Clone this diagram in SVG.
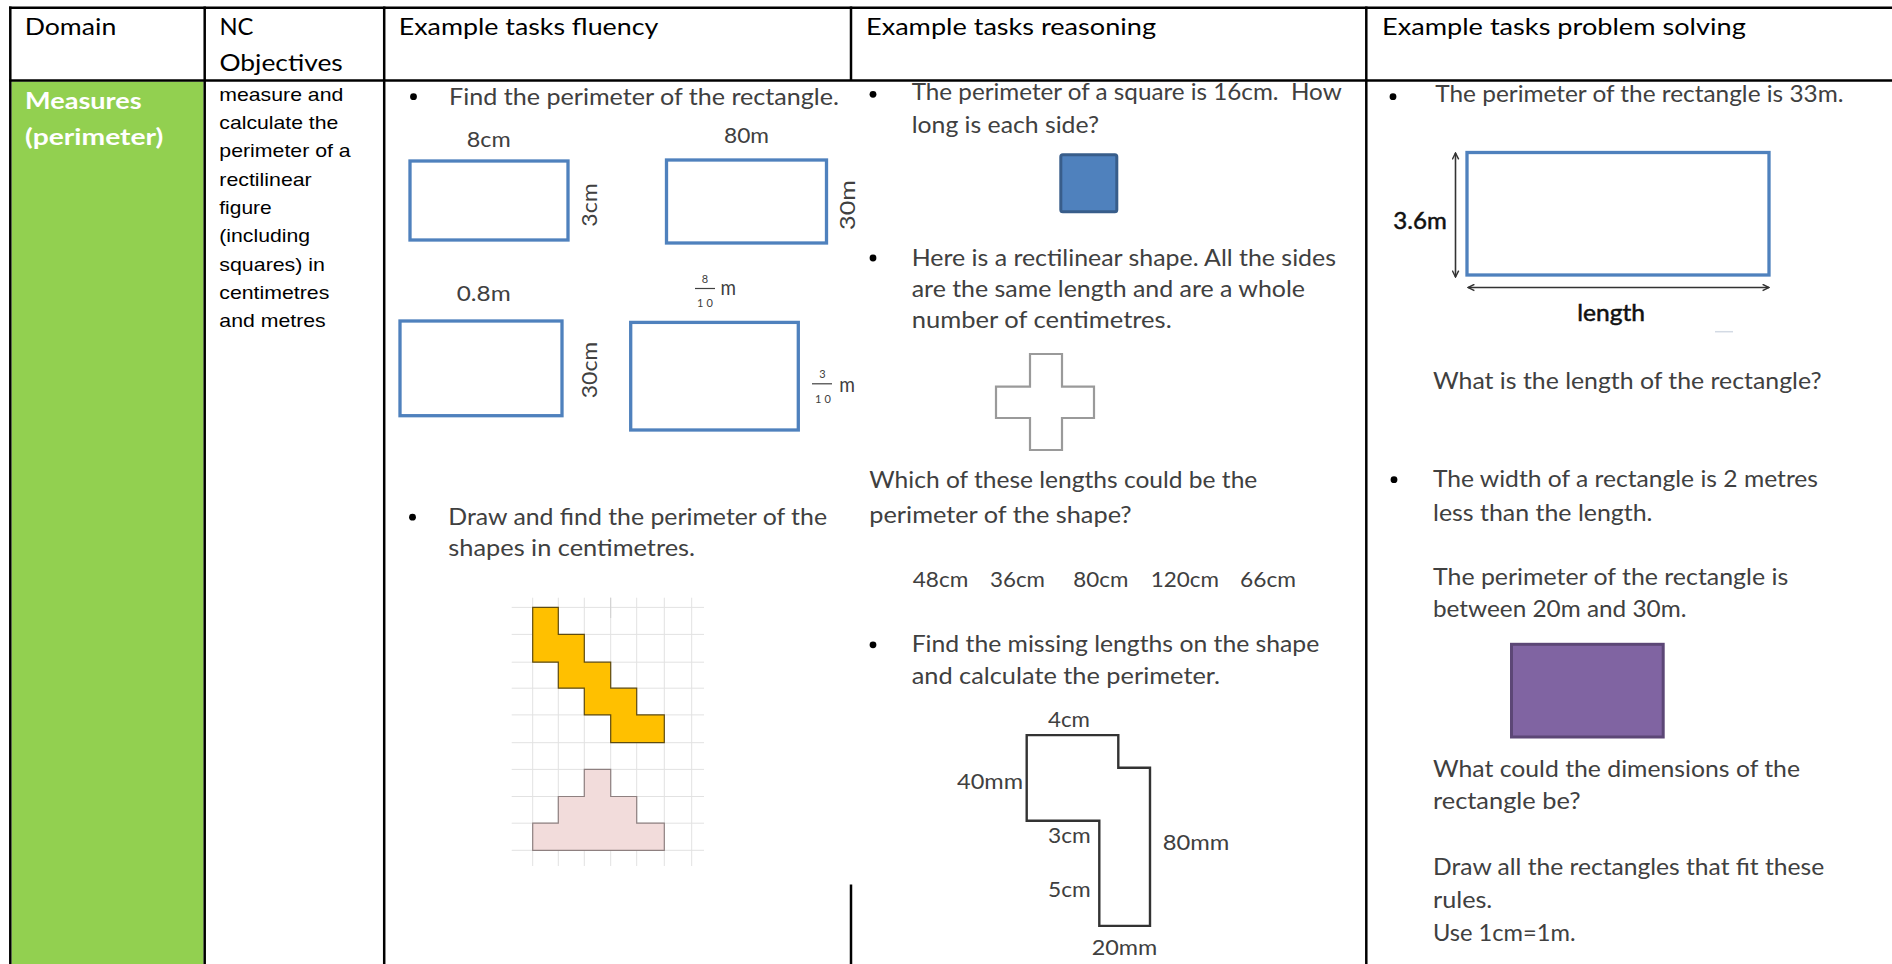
<svg xmlns="http://www.w3.org/2000/svg" width="1892" height="964" viewBox="0 0 1892 964">
  <defs>
    <style>
      .hd { font-family: Lato, "Liberation Sans", sans-serif; font-size: 23px; fill: #000; }
      .tx { font-family: Lato, "Liberation Sans", sans-serif; font-size: 23px; fill: #404040; }
      .lb { font-family: Lato, "Liberation Sans", sans-serif; font-size: 21px; fill: #404040; }
      .fr { font-family: Lato, "Liberation Sans", sans-serif; font-size: 11px; fill: #404040; }
      .dm { font-family: Lato, "Liberation Sans", sans-serif; font-size: 23px; font-weight: bold; fill: #fff; }
      .ob { font-family: "Liberation Sans", Arial, sans-serif; font-size: 19px; fill: #000; }
      .ms { font-family: Lato, "Liberation Sans", sans-serif; font-size: 23px; fill: #111; stroke: #111; stroke-width: 0.5; }
      .rule { stroke: #000; stroke-width: 2.5; fill: none; }
      .blue { fill: #fff; stroke: #4F81BD; stroke-width: 3.3; }
      .grid { stroke: #e2e2e2; stroke-width: 1; }
      .dot { fill: #000; }
      .dim { stroke: #333; stroke-width: 1.6; fill: none; }
    </style>
    <marker id="open-head" viewBox="0 0 10 10" refX="9" refY="5" markerWidth="8" markerHeight="8" markerUnits="userSpaceOnUse" orient="auto-start-reverse">
      <path d="M1,1 L9,5 L1,9" fill="none" stroke="#333" stroke-width="1.8"/>
    </marker>
  </defs>

  <rect width="1892" height="964" fill="#fff"/>

  <!-- domain cell background -->
  <rect id="domain-fill" x="11.5" y="81.5" width="192" height="883" fill="#92D050"/>

  <!-- table rules -->
  <g id="table-rules">
    <line class="rule" x1="9" y1="7.8" x2="1892" y2="7.8"/>
    <line class="rule" x1="9" y1="80.5" x2="1892" y2="80.5"/>
    <line class="rule" x1="10.3" y1="6.5" x2="10.3" y2="964"/>
    <line class="rule" x1="204.7" y1="6.5" x2="204.7" y2="964"/>
    <line class="rule" x1="384.2" y1="6.5" x2="384.2" y2="964"/>
    <line class="rule" x1="851" y1="6.5" x2="851" y2="81"/>
    <line class="rule" x1="851" y1="884.5" x2="851" y2="964"/>
    <line class="rule" x1="1366.3" y1="6.5" x2="1366.3" y2="964"/>
  </g>

  <!-- header row -->
  <g id="header">
    <text class="hd" x="24.7" y="35" textLength="91.6" lengthAdjust="spacingAndGlyphs">Domain</text>
    <text class="hd" x="219.4" y="35" textLength="34" lengthAdjust="spacingAndGlyphs">NC</text>
    <text class="hd" x="219.4" y="70.7" textLength="123.4" lengthAdjust="spacingAndGlyphs">Objectives</text>
    <text class="hd" x="398.8" y="35" textLength="259.5" lengthAdjust="spacingAndGlyphs">Example tasks fluency</text>
    <text class="hd" x="866" y="35" textLength="290" lengthAdjust="spacingAndGlyphs">Example tasks reasoning</text>
    <text class="hd" x="1382" y="35" textLength="363.8" lengthAdjust="spacingAndGlyphs">Example tasks problem solving</text>
  </g>

  <!-- domain -->
  <g id="domain">
    <text class="dm" x="25" y="109.3" textLength="116.7" lengthAdjust="spacingAndGlyphs">Measures</text>
    <text class="dm" x="25" y="145" textLength="138.3" lengthAdjust="spacingAndGlyphs">(perimeter)</text>
  </g>

  <!-- national curriculum objective -->
  <g id="objectives">
    <text class="ob" x="219.3" y="100.7" textLength="124" lengthAdjust="spacingAndGlyphs">measure and</text>
    <text class="ob" x="219.3" y="129.3" textLength="119" lengthAdjust="spacingAndGlyphs">calculate the</text>
    <text class="ob" x="219.3" y="157.3" textLength="131.4" lengthAdjust="spacingAndGlyphs">perimeter of a</text>
    <text class="ob" x="219.3" y="185.7" textLength="92.4" lengthAdjust="spacingAndGlyphs">rectilinear</text>
    <text class="ob" x="219.3" y="214" textLength="52.4" lengthAdjust="spacingAndGlyphs">figure</text>
    <text class="ob" x="219.3" y="242.3" textLength="90.7" lengthAdjust="spacingAndGlyphs">(including</text>
    <text class="ob" x="219.3" y="270.7" textLength="105.7" lengthAdjust="spacingAndGlyphs">squares) in</text>
    <text class="ob" x="219.3" y="298.7" textLength="110" lengthAdjust="spacingAndGlyphs">centimetres</text>
    <text class="ob" x="219.3" y="326.7" textLength="106.4" lengthAdjust="spacingAndGlyphs">and metres</text>
  </g>

  <!-- fluency tasks -->
  <g id="fluency-rectangles">
    <circle class="dot" cx="413.5" cy="96.7" r="3.4"/>
    <text class="tx" x="449" y="105" textLength="390" lengthAdjust="spacingAndGlyphs">Find the perimeter of the rectangle.</text>

    <rect class="blue" x="410" y="161" width="158" height="79"/>
    <text class="lb" x="466.7" y="146.7" textLength="44" lengthAdjust="spacingAndGlyphs">8cm</text>
    <text class="lb" transform="translate(597.3 226.7) rotate(-90)" textLength="43.4" lengthAdjust="spacingAndGlyphs">3cm</text>

    <rect class="blue" x="666.5" y="160" width="160" height="83"/>
    <text class="lb" x="724" y="142.7" textLength="45" lengthAdjust="spacingAndGlyphs">80m</text>
    <text class="lb" transform="translate(854.5 230) rotate(-90)" textLength="50" lengthAdjust="spacingAndGlyphs">30m</text>

    <rect class="blue" x="400" y="321" width="162" height="94.7"/>
    <text class="lb" x="456.7" y="300.7" textLength="54" lengthAdjust="spacingAndGlyphs">0.8m</text>
    <text class="lb" transform="translate(597.3 398.3) rotate(-90)" textLength="56.6" lengthAdjust="spacingAndGlyphs">30cm</text>

    <rect class="blue" x="630.7" y="322.4" width="167.6" height="107.6"/>
    <text class="fr" x="705" y="283" text-anchor="middle">8</text>
    <line x1="695" y1="288.5" x2="715" y2="288.5" stroke="#404040" stroke-width="1.2"/>
    <text class="fr" x="705" y="306.5" text-anchor="middle" textLength="16" lengthAdjust="spacing">10</text>
    <text class="lb" x="720.5" y="295" textLength="15.5" lengthAdjust="spacingAndGlyphs">m</text>

    <text class="fr" x="822.5" y="378.3" text-anchor="middle">3</text>
    <line x1="812" y1="383.8" x2="832" y2="383.8" stroke="#404040" stroke-width="1.2"/>
    <text class="fr" x="823" y="403.3" text-anchor="middle" textLength="16" lengthAdjust="spacing">10</text>
    <text class="lb" x="839.3" y="391.7" textLength="15.7" lengthAdjust="spacingAndGlyphs">m</text>
  </g>

  <g id="fluency-grid">
    <circle class="dot" cx="412.5" cy="517.2" r="3.4"/>
    <text class="tx" x="448.3" y="524.8" textLength="378.7" lengthAdjust="spacingAndGlyphs">Draw and find the perimeter of the</text>
    <text class="tx" x="448.3" y="556" textLength="246.7" lengthAdjust="spacingAndGlyphs">shapes in centimetres.</text>

    <g class="grid">
      <line x1="532.7" y1="597.7" x2="532.7" y2="866"/>
      <line x1="558.3" y1="597.7" x2="558.3" y2="866"/>
      <line x1="584.3" y1="597.7" x2="584.3" y2="866"/>
      <line x1="610.7" y1="597.7" x2="610.7" y2="866"/>
      <line x1="636.7" y1="597.7" x2="636.7" y2="866"/>
      <line x1="664.3" y1="597.7" x2="664.3" y2="866"/>
      <line x1="691.7" y1="597.7" x2="691.7" y2="866"/>
      <line x1="511.7" y1="607.4" x2="704" y2="607.4"/>
      <line x1="511.7" y1="634.4" x2="704" y2="634.4"/>
      <line x1="511.7" y1="662.2" x2="704" y2="662.2"/>
      <line x1="511.7" y1="688.2" x2="704" y2="688.2"/>
      <line x1="511.7" y1="714.9" x2="704" y2="714.9"/>
      <line x1="511.7" y1="742.7" x2="704" y2="742.7"/>
      <line x1="511.7" y1="769.4" x2="704" y2="769.4"/>
      <line x1="511.7" y1="796.5" x2="704" y2="796.5"/>
      <line x1="511.7" y1="823.2" x2="704" y2="823.2"/>
      <line x1="511.7" y1="850.3" x2="704" y2="850.3"/>
    </g>
    <line x1="610.7" y1="597.7" x2="610.7" y2="618" stroke="#cfcfcf" stroke-width="1"/>

    <!-- staircase shape -->
    <path d="M532.7,607.4 H558.3 V634.4 H584.3 V662.2 H610.7 V688.2 H636.7 V714.9 H664.3 V742.7 H610.7 V714.9 H584.3 V688.2 H558.3 V662.2 H532.7 Z"
          fill="#FFC000" stroke="#5e4b10" stroke-width="1.2"/>
    <!-- stepped T shape -->
    <path d="M584.3,769.4 H610.7 V796.5 H636.7 V823.2 H664.3 V850.3 H532.7 V823.2 H558.3 V796.5 H584.3 Z"
          fill="#F2DCDB" stroke="#8e8080" stroke-width="1.2"/>
  </g>

  <!-- reasoning tasks -->
  <g id="reasoning-square">
    <circle class="dot" cx="873" cy="94.3" r="3.4"/>
    <text class="tx" x="911.7" y="100" textLength="430" lengthAdjust="spacingAndGlyphs" xml:space="preserve">The perimeter of a square is 16cm.  How</text>
    <text class="tx" x="911.7" y="133.3" textLength="187.3" lengthAdjust="spacingAndGlyphs">long is each side?</text>
    <rect x="1060.8" y="154.8" width="56" height="57" rx="2" fill="#4F81BD" stroke="#385D8A" stroke-width="3"/>
  </g>

  <g id="reasoning-cross">
    <circle class="dot" cx="873" cy="258" r="3.4"/>
    <text class="tx" x="911.7" y="265.5" textLength="424.3" lengthAdjust="spacingAndGlyphs">Here is a rectilinear shape. All the sides</text>
    <text class="tx" x="911.7" y="296.5" textLength="393.3" lengthAdjust="spacingAndGlyphs">are the same length and are a whole</text>
    <text class="tx" x="911.7" y="327.5" textLength="260" lengthAdjust="spacingAndGlyphs">number of centimetres.</text>
    <path d="M1030,354 H1062 V386.7 H1094 V418 H1062 V450 H1030 V418 H996 V386.7 H1030 Z"
          fill="#fff" stroke="#9a9a9a" stroke-width="2.2"/>
    <text class="tx" x="869.3" y="488.4" textLength="388" lengthAdjust="spacingAndGlyphs">Which of these lengths could be the</text>
    <text class="tx" x="869.3" y="523.4" textLength="262.4" lengthAdjust="spacingAndGlyphs">perimeter of the shape?</text>
    <text class="lb" x="912.7" y="587.2" textLength="55.6" lengthAdjust="spacingAndGlyphs">48cm</text>
    <text class="lb" x="990" y="587.2" textLength="55" lengthAdjust="spacingAndGlyphs">36cm</text>
    <text class="lb" x="1073.3" y="587.2" textLength="55" lengthAdjust="spacingAndGlyphs">80cm</text>
    <text class="lb" x="1150.7" y="587.2" textLength="68.3" lengthAdjust="spacingAndGlyphs">120cm</text>
    <text class="lb" x="1240" y="587.2" textLength="56" lengthAdjust="spacingAndGlyphs">66cm</text>
  </g>

  <g id="reasoning-lshape">
    <circle class="dot" cx="873" cy="644.8" r="3.4"/>
    <text class="tx" x="911.7" y="651.8" textLength="407.6" lengthAdjust="spacingAndGlyphs">Find the missing lengths on the shape</text>
    <text class="tx" x="911.7" y="684.4" textLength="308.3" lengthAdjust="spacingAndGlyphs">and calculate the perimeter.</text>
    <path d="M1026.7,735.1 H1118.3 V767.7 H1150 V925.9 H1099.3 V820.8 H1026.7 Z"
          fill="#fff" stroke="#333" stroke-width="2.4"/>
    <text class="lb" x="1048" y="727.1" textLength="42" lengthAdjust="spacingAndGlyphs">4cm</text>
    <text class="lb" x="957" y="788.5" textLength="66" lengthAdjust="spacingAndGlyphs">40mm</text>
    <text class="lb" x="1048" y="843.3" textLength="42.7" lengthAdjust="spacingAndGlyphs">3cm</text>
    <text class="lb" x="1162.7" y="849.6" textLength="66.6" lengthAdjust="spacingAndGlyphs">80mm</text>
    <text class="lb" x="1048" y="897.1" textLength="42.7" lengthAdjust="spacingAndGlyphs">5cm</text>
    <text class="lb" x="1091.7" y="955" textLength="65.6" lengthAdjust="spacingAndGlyphs">20mm</text>
  </g>

  <!-- problem solving tasks -->
  <g id="problem-length">
    <circle class="dot" cx="1393" cy="96.7" r="3.4"/>
    <text class="tx" x="1435.3" y="101.7" textLength="408.2" lengthAdjust="spacingAndGlyphs">The perimeter of the rectangle is 33m.</text>
    <rect class="blue" x="1467" y="152.5" width="302" height="122.5" stroke-width="3.5"/>
    <line class="dim" x1="1455.5" y1="153" x2="1455.5" y2="277" marker-start="url(#open-head)" marker-end="url(#open-head)"/>
    <line class="dim" x1="1468" y1="287.5" x2="1769" y2="287.5" marker-start="url(#open-head)" marker-end="url(#open-head)"/>
    <text class="ms" x="1393.3" y="229" textLength="53.4" lengthAdjust="spacingAndGlyphs">3.6m</text>
    <text class="ms" x="1577.2" y="320.5" textLength="67.8" lengthAdjust="spacingAndGlyphs">length</text>
    <line x1="1715" y1="331.7" x2="1733" y2="331.7" stroke="#d3dae4" stroke-width="1.5"/>
    <text class="tx" x="1433" y="389" textLength="388.5" lengthAdjust="spacingAndGlyphs">What is the length of the rectangle?</text>
  </g>

  <g id="problem-dimensions">
    <circle class="dot" cx="1394" cy="479.7" r="3.4"/>
    <text class="tx" x="1433" y="486.6" textLength="385" lengthAdjust="spacingAndGlyphs">The width of a rectangle is 2 metres</text>
    <text class="tx" x="1433" y="520.6" textLength="219.5" lengthAdjust="spacingAndGlyphs">less than the length.</text>
    <text class="tx" x="1433" y="584.8" textLength="355.2" lengthAdjust="spacingAndGlyphs">The perimeter of the rectangle is</text>
    <text class="tx" x="1433" y="617.1" textLength="253.4" lengthAdjust="spacingAndGlyphs">between 20m and 30m.</text>
    <rect x="1511.5" y="644.3" width="151.7" height="92.7" fill="#8064A2" stroke="#5C4776" stroke-width="3"/>
    <text class="tx" x="1433" y="777.4" textLength="367" lengthAdjust="spacingAndGlyphs">What could the dimensions of the</text>
    <text class="tx" x="1433" y="809.3" textLength="147.6" lengthAdjust="spacingAndGlyphs">rectangle be?</text>
    <text class="tx" x="1433" y="875.2" textLength="391.2" lengthAdjust="spacingAndGlyphs">Draw all the rectangles that fit these</text>
    <text class="tx" x="1433" y="907.5" textLength="59.3" lengthAdjust="spacingAndGlyphs">rules.</text>
    <text class="tx" x="1433" y="941.2" textLength="142.5" lengthAdjust="spacingAndGlyphs">Use 1cm=1m.</text>
  </g>
</svg>
